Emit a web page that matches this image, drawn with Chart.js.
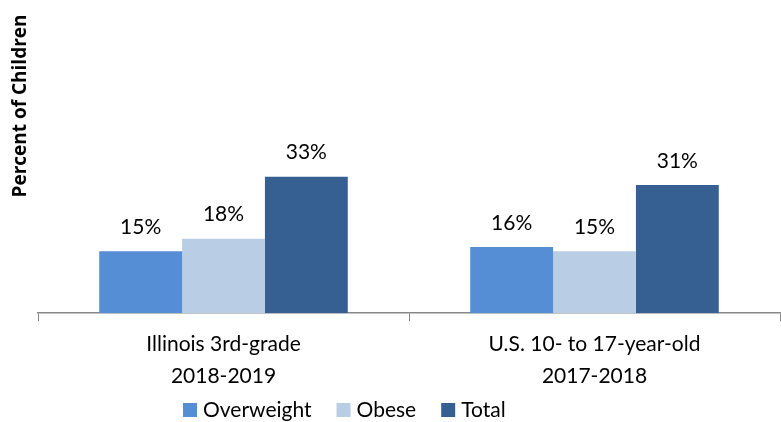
<!DOCTYPE html>
<html>
<head>
<meta charset="utf-8">
<script src="https://cdn.jsdelivr.net/npm/chart.js@4"></script>
<style>
  html, body { margin: 0; padding: 0; background: #fff; }
  canvas { display: block; }
</style>
</head>
<body>
<canvas id="obesityChart" width="781" height="422"></canvas>
<script>
const groups = [['Illinois 3rd-grade', '2018-2019'], ['U.S. 10- to 17-year-old', '2017-2018']];
const seriesNames = ['Overweight', 'Obese', 'Total'];
const overweight = [15, 16];
const obese = [18, 15];
const total = [33, 31];
const colors = ['#558ED5', '#B9CDE5', '#376092'];
const FONT = 'Lato, "Open Sans", sans-serif';

// percent labels above each bar
const valueLabels = {
  id: 'valueLabels',
  afterDatasetsDraw(chart) {
    const ctx = chart.ctx;
    ctx.save();
    ctx.font = '21px ' + FONT;
    ctx.fillStyle = '#000';
    ctx.textAlign = 'center';
    ctx.textBaseline = 'middle';
    chart.data.datasets.forEach((ds, i) => {
      chart.getDatasetMeta(i).data.forEach((bar, j) => {
        ctx.fillText(ds.data[j] + '%', bar.x, bar.y - 24);
      });
    });
    ctx.restore();
  }
};

// y title and legend drawn by hand so they sit where the original has them
const extras = {
  id: 'extras',
  afterDraw(chart) {
    const ctx = chart.ctx;
    ctx.save();
    ctx.translate(21, 106);
    ctx.rotate(-Math.PI / 2);
    ctx.font = 'bold 19px "Open Sans", sans-serif';
    ctx.fillStyle = '#000';
    ctx.textAlign = 'center';
    ctx.textBaseline = 'middle';
    ctx.fillText('Percent of Children', 0, 0);
    ctx.restore();

    ctx.save();
    ctx.font = '21px ' + FONT;
    ctx.textBaseline = 'middle';
    let x = 183;
    const y = 410;
    seriesNames.forEach((name, i) => {
      ctx.fillStyle = colors[i];
      ctx.fillRect(x, y - 7, 14, 14);
      ctx.fillStyle = '#000';
      ctx.fillText(name, x + 20, y);
      x += 20 + ctx.measureText(name).width + 25;
    });
    ctx.restore();
  }
};

new Chart(document.getElementById('obesityChart'), {
  type: 'bar',
  data: {
    labels: groups,
    datasets: seriesNames.map((name, i) => ({
      label: name,
      data: [overweight, obese, total][i],
      backgroundColor: colors[i],
      barPercentage: 1,
      categoryPercentage: 0.67
    }))
  },
  options: {
    responsive: false,
    animation: false,
    devicePixelRatio: 1,
    layout: { padding: { left: 38, right: 1, top: 3, bottom: 23 } },
    plugins: { legend: { display: false }, tooltip: { enabled: false } },
    scales: {
      x: {
        grid: { offset: true, drawOnChartArea: false, tickLength: 8, color: '#888' },
        border: { color: '#888', width: 1.5 },
        ticks: { color: '#000', padding: 7, font: { family: FONT, size: 21, lineHeight: 1.52 }, maxRotation: 0 }
      },
      y: {
        display: false,
        min: 0,
        max: 75
      }
    }
  },
  plugins: [valueLabels, extras]
});
</script>
</body>
</html>
